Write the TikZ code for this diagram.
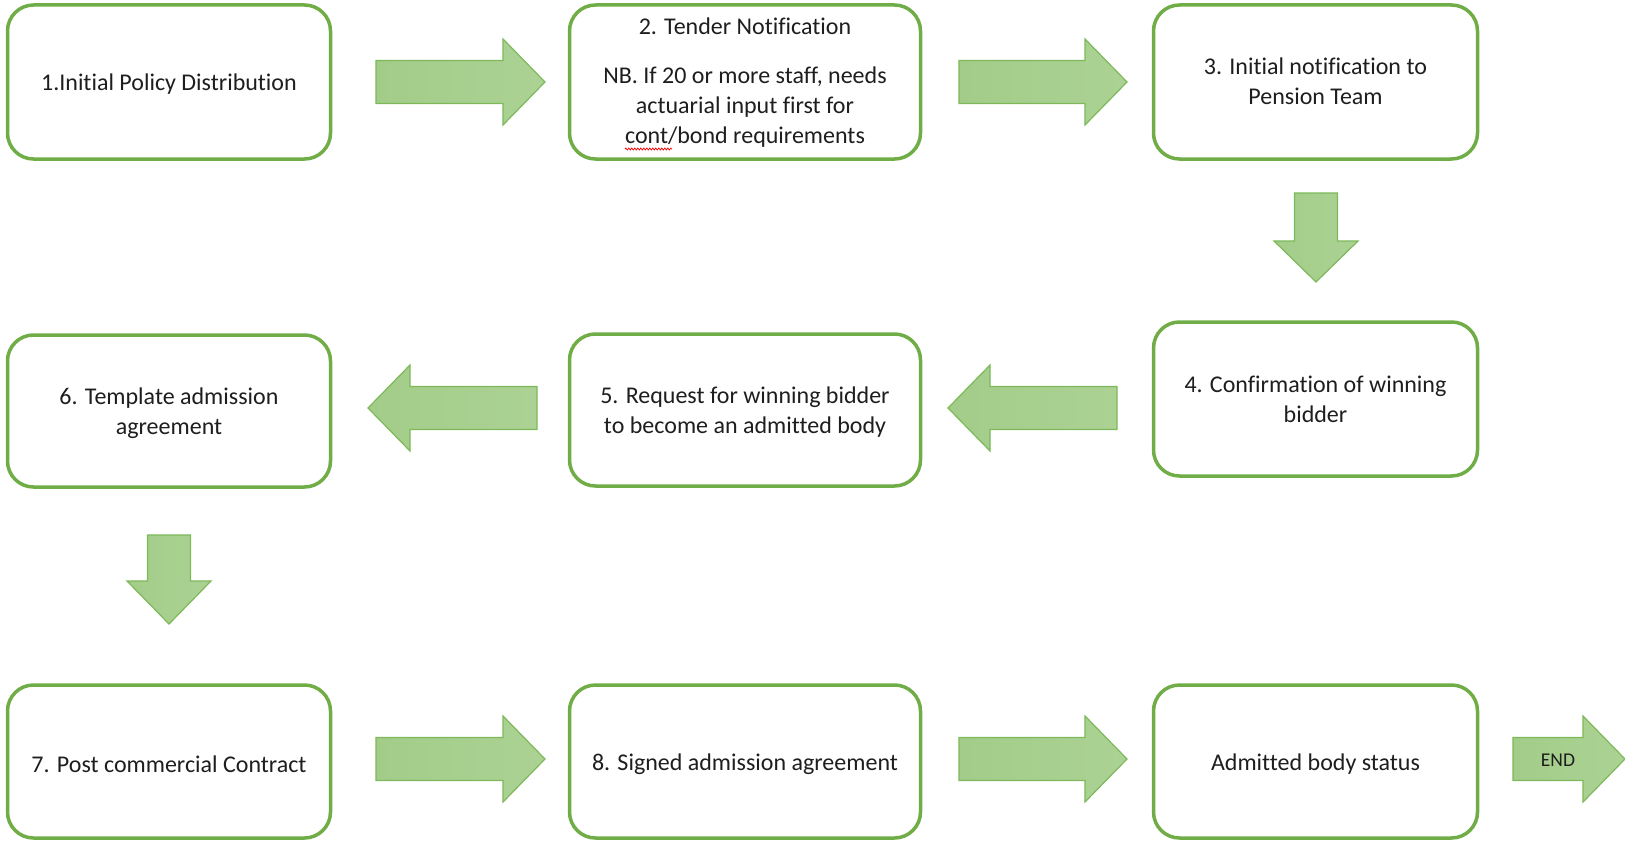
\documentclass[tikz,border=0pt]{standalone}
\usepackage{fontspec}
\setmainfont{Carlito}[Ligatures=NoCommon]
\usetikzlibrary{decorations.pathmorphing}
\definecolor{boxgreen}{HTML}{70AD47}
\definecolor{arrowline}{HTML}{7DB95A}
\definecolor{arrowdark}{HTML}{A3CC89}
\definecolor{arrowlight}{HTML}{ABD293}
\definecolor{txt}{HTML}{1E1E1E}
\tikzset{
  stepbox/.style={draw=boxgreen, line width=3.5pt, rounded corners=26pt, fill=white, inner sep=0pt},
  steptext/.style={align=center, text=txt, font=\fontsize{24}{30}\selectfont, inner sep=0pt},
  blockarrow/.style={draw=arrowline, line width=1.2pt, left color=arrowdark,
    right color=arrowlight, line join=miter},
}
\newcommand\hblock[4]{% x0, xbase, xtip, yc
  \path[blockarrow] (#1,#4-21.5) -- (#2,#4-21.5) -- (#2,#4-43) -- (#3,#4)
    -- (#2,#4+43) -- (#2,#4+21.5) -- (#1,#4+21.5) -- cycle;}
\newcommand\vblock[4]{% xc, y0, ybase, ytip
  \path[blockarrow] (#1-21.5,#2) -- (#1-21.5,#3) -- (#1-42,#3) -- (#1,#4)
    -- (#1+42,#3) -- (#1+21.5,#3) -- (#1+21.5,#2) -- cycle;}
\begin{document}
\begin{tikzpicture}[x=1pt,y=-1pt]
\useasboundingbox (0,0) rectangle (1625,843);
% boxes
\node[stepbox, minimum width=323, minimum height=154] (b1) at (169,82) {};
\node[stepbox, minimum width=351, minimum height=154] (b2) at (745,82) {};
\node[stepbox, minimum width=324, minimum height=154] (b3) at (1315.5,82) {};
\node[stepbox, minimum width=324, minimum height=154] (b4) at (1315.5,399) {};
\node[stepbox, minimum width=351, minimum height=152] (b5) at (745,410) {};
\node[stepbox, minimum width=323, minimum height=152] (b6) at (169,411) {};
\node[stepbox, minimum width=323, minimum height=153] (b7) at (169,761.5) {};
\node[stepbox, minimum width=351, minimum height=153] (b8) at (745,761.5) {};
\node[stepbox, minimum width=324, minimum height=153] (b9) at (1315.5,761.5) {};
% texts
\node[steptext] (t1) at ([yshift=-2.5pt]b1.center) {1.Initial Policy Distribution};
\node[steptext] (t2) at ([yshift=-1pt]b2.center) {2. Tender Notification\\[19pt]NB. If 20 or more staff, needs\\actuarial input first for\\cont/bond requirements};
\node[steptext] (t3) at ([yshift=1pt]b3.center) {3. Initial notification to\\Pension Team};
\node[steptext] (t4) at (b4.center) {4. Confirmation of winning\\bidder};
\node[steptext] (t5) at ([yshift=-2pt]b5.center) {5. Request for winning bidder\\to become an admitted body};
\node[steptext] (t6) at ([yshift=-2pt]b6.center) {6. Template admission\\agreement};
\node[steptext] (t7) at ([yshift=-3pt]b7.center) {7. Post commercial Contract};
\node[steptext] (t8) at ([yshift=-3pt]b8.center) {8. Signed admission agreement};
\node[steptext] (t9) at ([yshift=-3pt]b9.center) {Admitted body status};
% spelling squiggle
\draw[red, line width=0.7pt, decorate, decoration={zigzag, segment length=3pt, amplitude=1pt}] (625,149) -- (672,149);
% block arrows
\hblock{376}{503}{545}{82}
\hblock{959}{1085}{1127}{82}
\vblock{1316}{193}{241}{282}
\hblock{1117}{990}{948}{408}
\hblock{537}{410}{368}{408}
\vblock{169}{535}{581}{624}
\hblock{376}{503}{545}{759}
\hblock{959}{1085}{1127}{759}
\hblock{1513}{1583}{1625}{759}
\node[text=txt, font=\fontsize{19.5}{23}\selectfont] (endlbl) at (1558,760) {END};
\end{tikzpicture}
\end{document}
